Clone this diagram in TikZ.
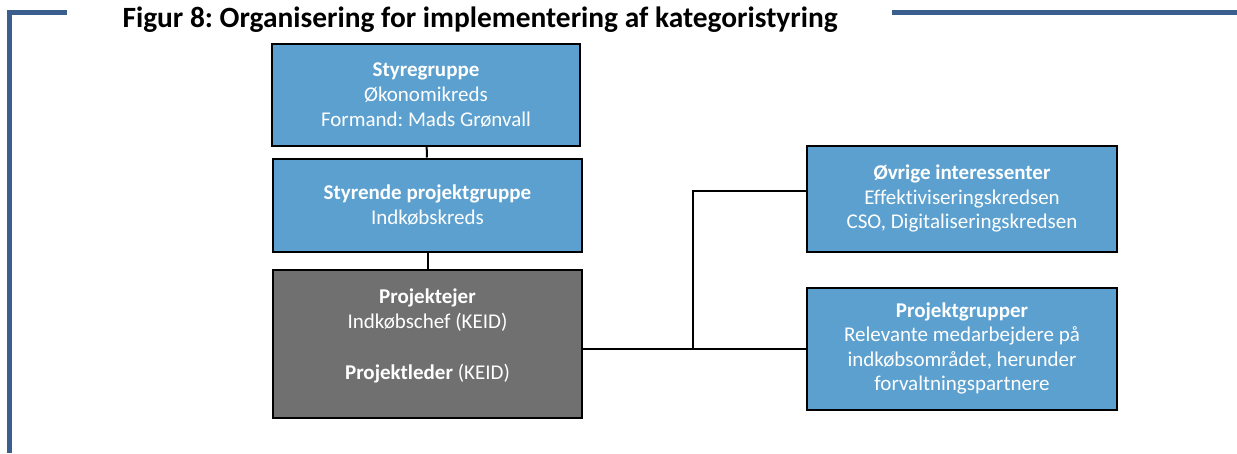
\documentclass[tikz,border=0pt]{standalone}
\usepackage{fontspec}
\setmainfont{Carlito}[Ligatures=NoCommon]
\usetikzlibrary{positioning,calc}

\definecolor{boxblue}{RGB}{91,160,207}
\definecolor{boxgray}{RGB}{112,112,112}
\definecolor{framecol}{RGB}{58,95,143}

\tikzset{
  orgbox/.style={draw=black, line width=2pt, fill=boxblue, text=white,
    align=center, inner sep=0pt, font=\fontsize{21}{24.6}\selectfont},
  conn/.style={draw=black, line width=2pt},
  frameline/.style={draw=framecol, line width=5pt}
}

\begin{document}
\frenchspacing
\begin{tikzpicture}[x=1pt, y=-1pt]
  \useasboundingbox (0,0) rectangle (1237,453);

  % ramme og titel
  \draw[frameline] (67,12.5) -- (9.5,12.5) -- (9.5,453);
  \draw[frameline] (892,12.5) -- (1237,12.5);
  \node[font=\fontsize{29.4}{33}\selectfont\bfseries, anchor=west] (titel) at (119,20)
    {Figur 8: Organisering for implementering af kategoristyring};

  % venstre kolonne
  \node[orgbox, minimum width=308pt, minimum height=102pt] (styre) at (426,95)
    {\textbf{Styregruppe}\\Økonomikreds\\Formand: Mads Grønvall};
  \node[orgbox, minimum width=309pt, minimum height=93pt] (styrende) at (427.5,205)
    {\textbf{Styrende projektgruppe}\\Indkøbskreds};
  \node[orgbox, fill=boxgray, minimum width=309pt, minimum height=148pt] (ejer) at (427.5,343.5)
    {\textbf{Projektejer}\\Indkøbschef (KEID)\\[26pt]\textbf{Projektleder} (KEID)\\[-6pt]\mbox{}};

  % højre kolonne
  \node[orgbox, minimum width=310pt, minimum height=106pt] (oevrige) at (962,198.5)
    {\textbf{Øvrige interessenter}\\Effektiviseringskredsen\\CSO, Digitaliseringskredsen};
  \node[orgbox, minimum width=310pt, minimum height=122pt] (pgrp) at (962,348.5)
    {\textbf{Projektgrupper}\\Relevante medarbejdere på\\indkøbsområdet, herunder\\forvaltningspartnere};

  % forbindelser
  \draw[conn] (styre) -- (styrende);
  \draw[conn] (styrende) -- (ejer);
  \draw[conn] (ejer.east |- pgrp.west) -- (pgrp.west);
  \coordinate (gren) at (693,348.5);
  \coordinate (knaek) at (693,191);
  \draw[conn] (gren) -- (knaek) -- (knaek -| oevrige.west);
\end{tikzpicture}
\end{document}
